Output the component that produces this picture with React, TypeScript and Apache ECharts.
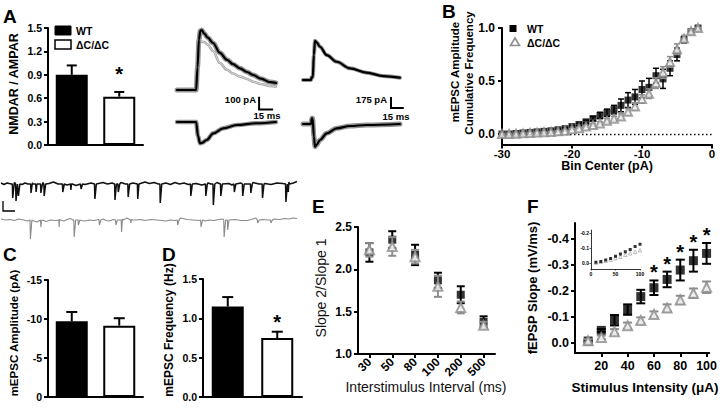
import React, { useEffect, useRef } from 'react';
import * as echarts from 'echarts';

const FONT = '"Liberation Sans", Arial, Helvetica, sans-serif';
const GRAY = '#8c8c8c';

// ---- A: NMDAR / AMPAR ratio
const groups = ['WT', 'ΔC/ΔC'];
const nmdaAmpaMean = [0.9, 0.62];
const nmdaAmpaSem = [0.12, 0.06];
const nmdaAmpaSig = ['', '*'];

// ---- A: evoked traces (time in ms, current in pA)
const wtNmdaTime = [0, 20.5, 22, 23.5, 25, 26.5, 29, 33, 38.6, 46, 53.6, 60, 67.5, 75, 81.5, 90, 99.7, 106];
const wtNmdaMean = [0, 0, 180, 400, 470, 476, 450, 415, 373, 295, 240, 205, 172, 143, 119, 90, 63, 56];
const wtNmdaSingle = [0, 0, 150, 330, 380, 385, 380, 360, 310, 214, 160, 130, 108, 88, 66, 48, 32, 28];
const wtAmpaTime = [0, 20.5, 22.5, 24.7, 27, 31.8, 38.9, 49.6, 64, 85.4, 106];
const wtAmpaMean = [0, 0, -110, -169, -165, -143, -90, -50, -24, -10, 0];
const koNmdaTime = [0, 9.5, 10, 11.5, 12.8, 14.1, 16, 20, 27.9, 39.6, 55.3, 74.9, 94.5, 114];
const koNmdaMean = [0, 0, 43, 43, 400, 624, 600, 529, 397, 290, 186, 116, 63, 37];
const koAmpaTime = [0, 9.5, 10.3, 11.3, 12.8, 14.1, 16, 20, 27.9, 39.6, 55.3, 74.9, 114];
const koAmpaMean = [0, 0, 90, 90, -200, -360, -330, -254, -148, -68, -32, -16, 0];
const wtScale = { t: 88, i: 100, dt: 15, di: 100 };
const koScale = { t: 103.5, i: 254, dt: 15, di: 175 };

// ---- B: cumulative mEPSC amplitude
const binCenter = [-30, -29, -28, -27, -26, -25, -24, -23, -22, -21, -20, -19, -18, -17, -16, -15, -14, -13, -12, -11, -10, -9, -8, -7, -6, -5, -4, -3, -2];
const cumWT = [0, 0, 0.005, 0.01, 0.015, 0.02, 0.025, 0.03, 0.04, 0.05, 0.07, 0.09, 0.115, 0.145, 0.175, 0.2, 0.23, 0.27, 0.32, 0.35, 0.42, 0.44, 0.55, 0.52, 0.62, 0.75, 0.89, 0.965, 1.0];
const cumWTSem = [0.004, 0.004, 0.004, 0.004, 0.005, 0.005, 0.005, 0.006, 0.006, 0.008, 0.01, 0.012, 0.015, 0.02, 0.03, 0.035, 0.04, 0.06, 0.07, 0.07, 0.08, 0.085, 0.07, 0.09, 0.07, 0.06, 0.03, 0.015, 0.005];
const cumKO = [0, 0, 0.003, 0.006, 0.01, 0.013, 0.017, 0.02, 0.025, 0.03, 0.045, 0.055, 0.07, 0.085, 0.1, 0.125, 0.145, 0.165, 0.21, 0.26, 0.33, 0.38, 0.48, 0.58, 0.68, 0.8, 0.9, 0.97, 1.0];
const cumKOSem = [0.003, 0.003, 0.003, 0.003, 0.004, 0.004, 0.004, 0.005, 0.005, 0.005, 0.006, 0.008, 0.01, 0.012, 0.015, 0.02, 0.022, 0.025, 0.03, 0.035, 0.04, 0.045, 0.05, 0.055, 0.05, 0.05, 0.03, 0.015, 0.005];

// ---- spontaneous traces (time in s, current in pA)
const spontWTBase = [[0, 1], [0.1, -0.5], [0.2, 1], [0.35, 0], [0.45, 1.5], [0.7, -0.5], [0.8, 1], [0.9, 0], [1.05, 1.5], [1.2, 0], [1.4, 1.5], [1.6, 0.5], [1.75, 2], [1.9, 0], [2.05, 0.5], [2.2, -1], [2.35, 0], [2.5, -1.5], [2.65, 0], [2.8, -0.5], [3.0, 1], [3.2, 0], [3.4, 1.5], [3.55, 0], [3.7, 1], [3.85, -0.5], [4.0, 1.5], [4.15, 0], [4.4, 1], [4.6, 0], [4.8, 2], [4.95, 0.5], [5.1, 1.5], [5.25, 0], [5.5, 1], [5.65, -0.5], [5.8, 1.5], [5.95, 0], [6.1, 1], [6.25, -0.5], [6.5, 0.5], [6.7, -1], [6.9, 1], [7.0, 0], [7.2, 1.5], [7.4, 0], [7.6, 0.5], [7.7, -1], [8.0, 1], [8.2, 0], [8.4, 1.5], [8.6, 0], [8.8, 0.5], [9.0, -0.5], [9.2, 1], [9.4, 0.5], [9.6, 2], [9.75, 1], [9.87, 2.5]];
const spontWTEventT = [0.39, 0.5, 0.58, 1.0, 1.17, 1.33, 1.44, 2.06, 2.33, 2.67, 3.13, 3.8, 3.91, 4.24, 4.56, 5.31, 6.33, 6.83, 7.08, 7.33, 7.78, 8.06, 8.33, 8.72, 9.5, 9.58];
const spontWTEventAmp = [14, 17, 12, 9, 8, 9, 12, 8, 6, 5, 15, 16, 8, 13, 15, 19, 12, 12, 21, 12, 8, 12, 9, 14, 18, 8];
const spontKOBase = [[0, 1], [0.15, 0], [0.3, 0.5], [0.45, -0.5], [0.6, 1], [0.75, 0], [0.9, -1], [1.05, -0.5], [1.2, -2], [1.35, -1], [1.5, -1.5], [1.65, 0], [1.8, -0.5], [1.95, 0.5], [2.1, -1], [2.2, 0.5], [2.3, 1.5], [2.4, 0], [2.5, 0.5], [2.65, -0.5], [2.8, -1], [2.95, 0], [3.1, -0.5], [3.25, 0.5], [3.4, 1], [3.5, -0.5], [3.6, -1], [3.75, 0.5], [3.9, 0], [4.05, 1], [4.2, 2], [4.35, 0.5], [4.5, 0], [4.65, 0.5], [4.8, -0.5], [5.0, 0.5], [5.2, 0], [5.35, -0.5], [5.5, -1], [5.65, 0], [5.8, -0.5], [5.95, 1], [6.0, 2], [6.2, 0.5], [6.4, 0], [6.6, -0.5], [6.8, -1], [6.95, 0], [7.1, -0.5], [7.25, 0.5], [7.4, 1], [7.6, 0], [7.8, 0.5], [8.0, -0.5], [8.2, -0.5], [8.35, 0.5], [8.5, 2], [8.7, 0.5], [8.9, 0], [9.1, 1], [9.3, 0.5], [9.45, 1.5], [9.6, 1], [9.75, 2], [9.87, 1.5]];
const spontKOEventT = [0.98, 1.33, 1.94, 2.44, 2.58, 3.28, 3.83, 4.02, 4.33, 5.89, 6.67, 7.44, 7.56, 8.56, 9.0];
const spontKOEventAmp = [19, 7, 7, 17, 5, 5, 5, 12, 3, 5, 7, 17, 10, 3, 3];
const spontScale = { t: 0.067, i: 9, dt: 0.4, di: 10 };

// ---- C / D
const mepscAmpMean = [-9.7, -9.15];
const mepscAmpSem = [1.2, 0.95];
const mepscFreqMean = [1.15, 0.75];
const mepscFreqSem = [0.12, 0.08];
const mepscFreqSig = ['', '*'];

// ---- E: paired-pulse ratio
const isiLabels = ['30', '50', '80', '100', '200', '500'];
const ppWT = [2.2, 2.35, 2.17, 1.87, 1.7, 1.38];
const ppWTSem = [0.11, 0.1, 0.12, 0.09, 0.1, 0.065];
const ppKO = [2.23, 2.27, 2.15, 1.8, 1.55, 1.34];
const ppKOSem = [0.08, 0.11, 0.08, 0.125, 0.07, 0.04];

// ---- F: input-output
const stimUA = [10, 20, 30, 40, 50, 60, 70, 80, 90, 100];
const ioWT = [-0.006, -0.047, -0.086, -0.127, -0.177, -0.211, -0.243, -0.279, -0.315, -0.343];
const ioWTSem = [0.003, 0.005, 0.02, 0.02, 0.026, 0.028, 0.03, 0.04, 0.042, 0.04];
const ioKO = [-0.007, -0.02, -0.042, -0.065, -0.085, -0.108, -0.133, -0.164, -0.19, -0.213];
const ioKOSem = [0.006, 0.007, 0.01, 0.012, 0.012, 0.012, 0.014, 0.016, 0.018, 0.022];
const ioSig = ['', '', '', '', '', '*', '*', '*', '*', '*'];
const insetWT = [-0.005, -0.01, -0.02, -0.03, -0.045, -0.06, -0.075, -0.09, -0.11, -0.125];
const insetKO = [-0.003, -0.008, -0.015, -0.022, -0.032, -0.042, -0.055, -0.065, -0.075, -0.085];

const zip = (xs: number[], ys: number[]) => xs.map((x, i) => [x, ys[i]]);

function spontData(base: number[][], evT: number[], evA: number[]) {
  const pts: number[][] = base.map((p) => [p[0], p[1]]);
  evT.forEach((t, i) => {
    pts.push([t - 0.012, 0], [t, -evA[i]], [t + 0.05, 0]);
  });
  pts.sort((a, b) => a[0] - b[0]);
  return pts;
}

function scaleBar(s: { t: number; i: number; dt: number; di: number }) {
  return [[s.t, s.i + s.di], [s.t, s.i], [s.t + s.dt, s.i]];
}

function errRender(color: string, capHalf: number, lw: number, sig?: string[], starGap?: number) {
  return (params: any, api: any) => {
    const x = api.value(0), y = api.value(1), e = api.value(2);
    const lo = api.coord([x, y - e]);
    const hi = api.coord([x, y + e]);
    const st = { stroke: color, lineWidth: lw };
    const children: any[] = [
      { type: 'line', shape: { x1: lo[0], y1: lo[1], x2: hi[0], y2: hi[1] }, style: st },
      { type: 'line', shape: { x1: lo[0] - capHalf, y1: lo[1], x2: lo[0] + capHalf, y2: lo[1] }, style: st },
      { type: 'line', shape: { x1: hi[0] - capHalf, y1: hi[1], x2: hi[0] + capHalf, y2: hi[1] }, style: st },
    ];
    if (sig && sig[params.dataIndex]) {
      const topY = Math.min(lo[1], hi[1]);
      children.push({ type: 'text', style: { text: sig[params.dataIndex], x: lo[0], y: topY - (starGap || 10), font: `bold 20px ${FONT}`, fill: '#000', align: 'center', verticalAlign: 'middle', textAlign: 'center', textVerticalAlign: 'middle' } });
    }
    return { type: 'group', children };
  };
}

function barErrRender(capHalf: number, lw: number, sig?: string[], starGap?: number) {
  return (params: any, api: any) => {
    const x = api.value(0), y = api.value(1), e = api.value(2);
    const end = y + Math.sign(y) * e;
    const a = api.coord([x, y]);
    const b = api.coord([x, end]);
    const st = { stroke: '#000', lineWidth: lw };
    const children: any[] = [
      { type: 'line', shape: { x1: a[0], y1: a[1], x2: b[0], y2: b[1] }, style: st },
      { type: 'line', shape: { x1: b[0] - capHalf, y1: b[1], x2: b[0] + capHalf, y2: b[1] }, style: st },
    ];
    if (sig && sig[params.dataIndex]) {
      children.push({ type: 'text', style: { text: sig[params.dataIndex], x: b[0], y: b[1] - (starGap || 10), font: `bold 20px ${FONT}`, fill: '#000', align: 'center', verticalAlign: 'middle', textAlign: 'center', textVerticalAlign: 'middle' } });
    }
    return { type: 'group', children };
  };
}

const lab = (size: number, extra: any = {}) => ({ color: '#000', fontFamily: FONT, fontWeight: 'bold', fontSize: size, ...extra });
const aLine = (w = 2) => ({ show: true, onZero: false, lineStyle: { color: '#000', width: w } });
const aTick = (len = 4, w = 2, extra: any = {}) => ({ show: true, length: len, lineStyle: { color: '#000', width: w }, ...extra });
const hidden = { show: false };

function txt(text: string, x: number, y: number, size: number, o: any = {}) {
  const align = o.align || 'center';
  const va = o.va || 'middle';
  return {
    type: 'text', x, y, rotation: o.rot || 0, z: 100,
    style: { text, font: `${o.weight || 'bold'} ${size}px ${FONT}`, fill: o.color || '#000', align, verticalAlign: va, textAlign: align, textVerticalAlign: va },
  };
}

export default function App() {
  const ref = useRef<HTMLDivElement>(null);
  useEffect(() => {
    if (!ref.current) return;
    const chart = echarts.init(ref.current, undefined, { renderer: 'svg' });
    const barData = (means: number[], sems: number[]) => means.map((m, i) => [i, m, sems[i]]);
    const barItems = (means: number[]) => means.map((m, i) => ({
      value: m,
      itemStyle: i === 0 ? { color: '#000', borderColor: '#000', borderWidth: 2 } : { color: '#fff', borderColor: '#000', borderWidth: 2 },
    }));
    const triStyle = { color: '#fff', borderColor: GRAY, borderWidth: 2 };

    const grids = [
      { left: 48, top: 28, width: 95, height: 117 }, // 0 A
      { left: 502, top: 28, width: 210, height: 116.6 }, // 1 B
      { left: 48, top: 280, width: 95, height: 117 }, // 2 C
      { left: 203, top: 279, width: 99, height: 118 }, // 3 D
      { left: 358, top: 227, width: 137, height: 127 }, // 4 E
      { left: 575, top: 223, width: 136, height: 130 }, // 5 F
      { left: 591, top: 230, width: 49, height: 39 }, // 6 F inset
      { left: 177, top: 20, width: 100, height: 80 }, // 7 WT upper trace
      { left: 177, top: 100, width: 100, height: 55 }, // 8 WT lower trace
      { left: 303, top: 20, width: 100, height: 80 }, // 9 KO upper trace
      { left: 303, top: 100, width: 100, height: 55 }, // 10 KO lower trace
      { left: 1, top: 170, width: 296, height: 40 }, // 11 spont WT
      { left: 1, top: 205, width: 296, height: 40 }, // 12 spont KO
    ];

    const catX = (gi: number) => ({ gridIndex: gi, type: 'category', data: groups, axisLine: aLine(2), axisTick: hidden, axisLabel: hidden });
    const hidX = (gi: number, min: number, max: number) => ({ gridIndex: gi, type: 'value', min, max, show: false });

    const xAxis: any[] = [
      catX(0),
      { gridIndex: 1, type: 'value', min: -30, max: 0, interval: 10, axisLine: aLine(2), axisTick: aTick(4, 2), axisLabel: lab(11.5, { margin: 3 }), splitLine: hidden },
      catX(2),
      catX(3),
      { gridIndex: 4, type: 'category', data: isiLabels, axisLine: aLine(2), axisTick: aTick(4, 2, { alignWithLabel: true }), axisLabel: lab(12, { rotate: 45, margin: 6 }) },
      { gridIndex: 5, type: 'value', min: 0, max: 102, axisLine: aLine(2), axisTick: aTick(4, 2, { customValues: [20, 40, 60, 80, 100] }), axisLabel: lab(12.5, { margin: 6, customValues: [20, 40, 60, 80, 100] }), splitLine: hidden },
      { gridIndex: 6, type: 'value', min: 0, max: 100, axisLine: aLine(0.8), axisTick: aTick(1.5, 0.6, { customValues: [0, 50, 100] }), axisLabel: lab(5, { margin: 2, customValues: [0, 50, 100] }), splitLine: hidden },
      hidX(7, 0, 107.2),
      hidX(8, 0, 107.2),
      hidX(9, 0, 117.6),
      hidX(10, 0, 117.6),
      hidX(11, 0, 9.87),
      hidX(12, 0, 9.87),
    ];

    const yAxis: any[] = [
      { gridIndex: 0, type: 'value', min: 0, max: 1.5, interval: 0.3, axisLine: aLine(2), axisTick: aTick(4, 2), axisLabel: lab(10.5, { margin: 6, formatter: (v: number) => v.toFixed(1) }), splitLine: hidden },
      { gridIndex: 1, type: 'value', min: -0.1, max: 1.0, axisLine: aLine(2), axisTick: aTick(4, 2, { customValues: [0, 0.5, 1] }), axisLabel: lab(12, { margin: 7, customValues: [0, 0.5, 1], formatter: (v: number) => v.toFixed(1) }), splitLine: hidden },
      { gridIndex: 2, type: 'value', inverse: true, min: -15, max: 0, interval: 5, axisLine: aLine(2), axisTick: aTick(4, 2), axisLabel: lab(10.5, { margin: 6 }), splitLine: hidden },
      { gridIndex: 3, type: 'value', min: 0, max: 1.5, interval: 0.5, axisLine: aLine(2), axisTick: aTick(4, 2), axisLabel: lab(10.5, { margin: 6, formatter: (v: number) => v.toFixed(1) }), splitLine: hidden },
      { gridIndex: 4, type: 'value', min: 1.0, max: 2.5, interval: 0.5, axisLine: aLine(2), axisTick: aTick(4, 2), axisLabel: lab(12, { margin: 6, formatter: (v: number) => v.toFixed(1) }), splitLine: hidden },
      { gridIndex: 5, type: 'value', inverse: true, min: -0.46, max: 0.04, axisLine: aLine(2), axisTick: aTick(4, 2, { customValues: [0, -0.1, -0.2, -0.3, -0.4] }), axisLabel: lab(12.5, { margin: 6, customValues: [0, -0.1, -0.2, -0.3, -0.4], formatter: (v: number) => (Math.abs(v) < 1e-9 ? '0.0' : v.toFixed(1)) }), splitLine: hidden },
      { gridIndex: 6, type: 'value', inverse: true, min: -0.22, max: 0.04, axisLine: aLine(0.8), axisTick: aTick(1.5, 0.6, { customValues: [0, -0.1, -0.2] }), axisLabel: lab(5, { margin: 2, customValues: [0, -0.1, -0.2], formatter: (v: number) => (Math.abs(v) < 1e-9 ? '0.0' : v.toFixed(1)) }), splitLine: hidden },
      { gridIndex: 7, type: 'value', min: -79.4, max: 555.6, show: false },
      { gridIndex: 8, type: 'value', min: -261.9, max: 174.6, show: false },
      { gridIndex: 9, type: 'value', min: -318, max: 954, show: false },
      { gridIndex: 10, type: 'value', min: -492.8, max: 381.6, show: false },
      { gridIndex: 11, type: 'value', min: -26, max: 14, show: false },
      { gridIndex: 12, type: 'value', min: -25, max: 15, show: false },
    ];

    const traceLine = (idx: number, data: number[][], color: string, width: number, z = 2) => ({
      type: 'line', xAxisIndex: idx, yAxisIndex: idx, data, showSymbol: false, symbol: 'none', smooth: 0.35, smoothMonotone: 'x', clip: false, z,
      lineStyle: { color, width, cap: 'round', join: 'round' },
    });
    const plainLine = (idx: number, data: number[][], color: string, width: number, join = 'miter') => ({
      type: 'line', xAxisIndex: idx, yAxisIndex: idx, data, showSymbol: false, symbol: 'none', clip: false, z: 3,
      lineStyle: { color, width, join },
    });

    const series: any[] = [
      // A
      { type: 'bar', xAxisIndex: 0, yAxisIndex: 0, data: barItems(nmdaAmpaMean), barWidth: 32, z: 2 },
      { type: 'custom', xAxisIndex: 0, yAxisIndex: 0, data: barData(nmdaAmpaMean, nmdaAmpaSem), renderItem: barErrRender(5, 2, nmdaAmpaSig, 18), z: 3 },
      // A traces
      traceLine(7, zip(wtNmdaTime, wtNmdaSingle), '#a0a0a0', 2.5),
      traceLine(7, zip(wtNmdaTime, wtNmdaSingle), '#ececec', 0.8),
      traceLine(7, zip(wtNmdaTime, wtNmdaMean), '#939393', 5),
      traceLine(7, zip(wtNmdaTime, wtNmdaMean), '#000', 2.2, 4),
      traceLine(8, zip(wtAmpaTime, wtAmpaMean), '#939393', 4.5),
      traceLine(8, zip(wtAmpaTime, wtAmpaMean), '#000', 2.2, 4),
      plainLine(8, scaleBar(wtScale), '#000', 2),
      traceLine(9, zip(koNmdaTime, koNmdaMean), '#939393', 4),
      traceLine(9, zip(koNmdaTime, koNmdaMean), '#000', 2.2, 4),
      traceLine(10, zip(koAmpaTime, koAmpaMean), '#939393', 5),
      traceLine(10, zip(koAmpaTime, koAmpaMean), '#000', 2.2, 4),
      plainLine(10, scaleBar(koScale), '#000', 2),
      // spontaneous traces
      plainLine(11, spontData(spontWTBase, spontWTEventT, spontWTEventAmp), '#111', 1.5, 'bevel'),
      plainLine(12, spontData(spontKOBase, spontKOEventT, spontKOEventAmp), '#8a8a8a', 1.1, 'bevel'),
      plainLine(12, scaleBar(spontScale), '#000', 1.3),
      // B
      { type: 'custom', xAxisIndex: 1, yAxisIndex: 1, data: binCenter.map((x, i) => [x, cumWT[i], cumWTSem[i]]), renderItem: errRender('#000', 3, 1.5), z: 2,
        markLine: { silent: true, symbol: 'none', label: { show: false }, lineStyle: { color: '#000', type: [1.5, 2.5], width: 1.3 }, data: [{ yAxis: 0 }] } },
      { type: 'scatter', xAxisIndex: 1, yAxisIndex: 1, data: zip(binCenter, cumWT), symbol: 'rect', symbolSize: 7, itemStyle: { color: '#000' }, z: 3 },
      { type: 'custom', xAxisIndex: 1, yAxisIndex: 1, data: binCenter.map((x, i) => [x, cumKO[i], cumKOSem[i]]), renderItem: errRender(GRAY, 3, 1.5), z: 4 },
      { type: 'scatter', xAxisIndex: 1, yAxisIndex: 1, data: zip(binCenter, cumKO), symbol: 'triangle', symbolSize: 8, itemStyle: triStyle, z: 5 },
      // C
      { type: 'bar', xAxisIndex: 2, yAxisIndex: 2, data: barItems(mepscAmpMean), barWidth: 32, z: 2 },
      { type: 'custom', xAxisIndex: 2, yAxisIndex: 2, data: barData(mepscAmpMean, mepscAmpSem), renderItem: barErrRender(5.5, 2), z: 3 },
      // D
      { type: 'bar', xAxisIndex: 3, yAxisIndex: 3, data: barItems(mepscFreqMean), barWidth: 32, z: 2 },
      { type: 'custom', xAxisIndex: 3, yAxisIndex: 3, data: barData(mepscFreqMean, mepscFreqSem), renderItem: barErrRender(5.5, 2, mepscFreqSig, 10), z: 3 },
      // E
      { type: 'custom', xAxisIndex: 4, yAxisIndex: 4, data: ppWT.map((v, i) => [i, v, ppWTSem[i]]), renderItem: errRender('#000', 4, 2), z: 2 },
      { type: 'scatter', xAxisIndex: 4, yAxisIndex: 4, data: ppWT.map((v, i) => [i, v]), symbol: 'rect', symbolSize: 8, itemStyle: { color: '#000' }, z: 3 },
      { type: 'custom', xAxisIndex: 4, yAxisIndex: 4, data: ppKO.map((v, i) => [i, v, ppKOSem[i]]), renderItem: errRender(GRAY, 4, 2), z: 4 },
      { type: 'scatter', xAxisIndex: 4, yAxisIndex: 4, data: ppKO.map((v, i) => [i, v]), symbol: 'triangle', symbolSize: 9, itemStyle: triStyle, z: 5 },
      // F
      { type: 'custom', xAxisIndex: 5, yAxisIndex: 5, data: stimUA.map((x, i) => [x, ioWT[i], ioWTSem[i]]), renderItem: errRender('#000', 4.5, 2, ioSig, 8), z: 2 },
      { type: 'scatter', xAxisIndex: 5, yAxisIndex: 5, data: zip(stimUA, ioWT), symbol: 'rect', symbolSize: 9, itemStyle: { color: '#000' }, z: 3 },
      { type: 'custom', xAxisIndex: 5, yAxisIndex: 5, data: stimUA.map((x, i) => [x, ioKO[i], ioKOSem[i]]), renderItem: errRender(GRAY, 4.5, 2), z: 4 },
      { type: 'scatter', xAxisIndex: 5, yAxisIndex: 5, data: zip(stimUA, ioKO), symbol: 'triangle', symbolSize: 9, itemStyle: triStyle, z: 5 },
      // F inset
      { type: 'scatter', xAxisIndex: 6, yAxisIndex: 6, data: zip(stimUA, insetKO), symbol: 'triangle', symbolSize: 3.5, itemStyle: { color: '#fff', borderColor: '#999', borderWidth: 0.8 }, z: 3 },
      { type: 'scatter', xAxisIndex: 6, yAxisIndex: 6, data: zip(stimUA, insetWT), symbol: 'rect', symbolSize: 3, itemStyle: { color: '#000' }, z: 4 },
    ];

    const graphic: any[] = [
      // panel letters
      txt('A', 3, 16.5, 19, { align: 'left' }),
      txt('B', 442, 11.5, 19, { align: 'left' }),
      txt('C', 3, 254.5, 19, { align: 'left' }),
      txt('D', 162, 254.5, 19, { align: 'left' }),
      txt('E', 312, 206.5, 19, { align: 'left' }),
      txt('F', 527, 206.5, 19, { align: 'left' }),
      // axis titles
      txt('NMDAR / AMPAR', 13.5, 84, 12.5, { rot: Math.PI / 2 }),
      txt('mEPSC Amplitude', 455, 72, 11.5, { rot: Math.PI / 2 }),
      txt('Cumulative Frequency', 468.5, 73, 11.5, { rot: Math.PI / 2 }),
      txt('Bin Center (pA)', 607, 165.5, 12.5),
      txt('mEPSC Amplitude (pA)', 14, 333, 11.5, { rot: Math.PI / 2 }),
      txt('mEPSC Frequency (Hz)', 169, 330, 12, { rot: Math.PI / 2 }),
      txt('Slope 2/Slope 1', 321, 288, 14, { rot: Math.PI / 2, weight: 'normal', color: '#111' }),
      txt('Interstimulus Interval (ms)', 426, 387, 14, { weight: 'normal', color: '#111' }),
      txt('fEPSP Slope (mV/ms)', 532, 288, 13, { rot: Math.PI / 2 }),
      txt('Stimulus Intensity (μA)', 645, 387, 13.5),
      // legend A
      { type: 'rect', shape: { x: 55, y: 26, width: 16, height: 9 }, style: { fill: '#000', stroke: '#000', lineWidth: 1 } },
      txt('WT', 76, 30.5, 10.5, { align: 'left' }),
      { type: 'rect', shape: { x: 55, y: 40, width: 16, height: 9 }, style: { fill: '#fff', stroke: '#000', lineWidth: 1.5 } },
      txt('ΔC/ΔC', 76, 44.5, 10.5, { align: 'left' }),
      // legend B
      { type: 'rect', shape: { x: 509.5, y: 25, width: 7, height: 7 }, style: { fill: '#000' } },
      txt('WT', 527, 28.5, 10.5, { align: 'left' }),
      { type: 'polygon', shape: { points: [[515, 38], [519.5, 45.5], [510.5, 45.5]] }, style: { fill: '#fff', stroke: GRAY, lineWidth: 1.6 } },
      txt('ΔC/ΔC', 527, 42.5, 10.5, { align: 'left' }),
      // scale bar labels
      txt('100 pA', 256, 99.5, 9.5, { align: 'right' }),
      txt('15 ms', 267, 115.5, 9.5),
      txt('175 pA', 387, 99.5, 9.5, { align: 'right' }),
      txt('15 ms', 396, 116.5, 9.5),
    ];

    chart.setOption({
      animation: false,
      backgroundColor: '#fff',
      textStyle: { fontFamily: FONT },
      grid: grids.map((g) => ({ ...g, containLabel: false })),
      xAxis,
      yAxis,
      series,
      graphic,
    });
    return () => chart.dispose();
  }, []);
  return <div ref={ref} style={{ position: 'fixed', left: 0, top: 0, width: 720, height: 409, background: '#fff' }} />;
}
